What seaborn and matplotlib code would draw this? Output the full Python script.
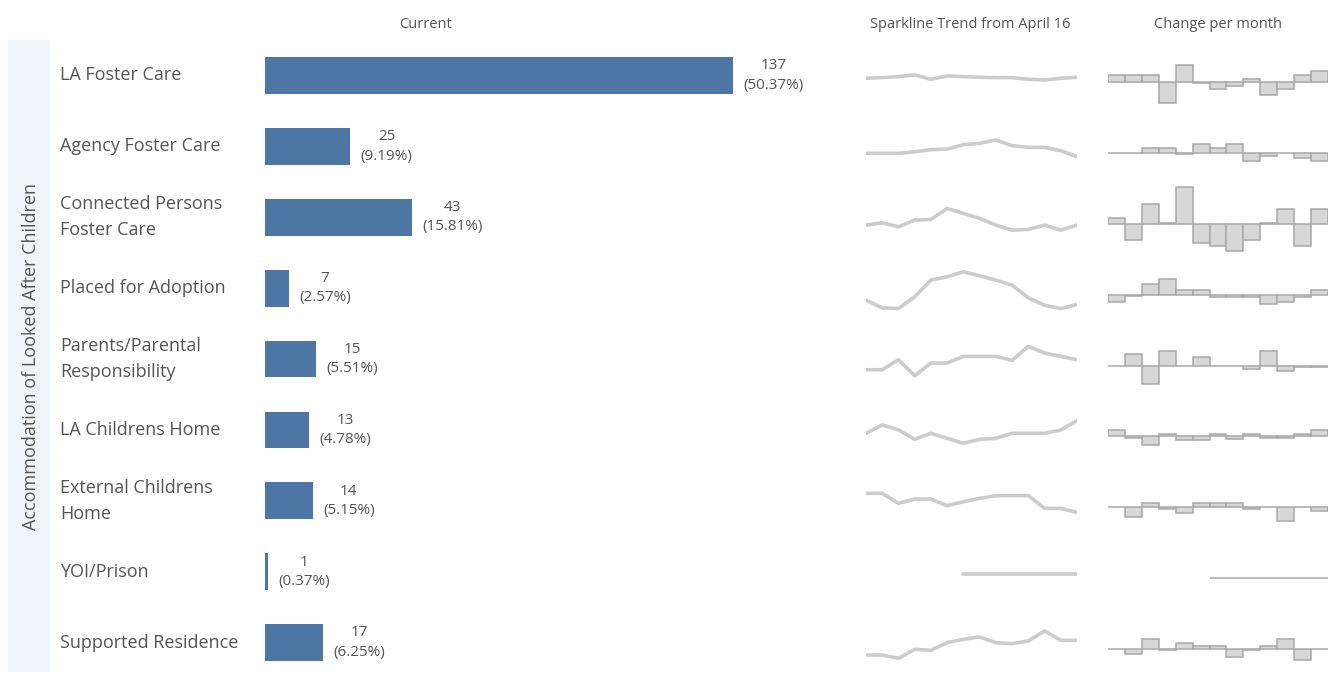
import numpy as np
import pandas as pd
import matplotlib
matplotlib.use("Agg")
import matplotlib.pyplot as plt
import matplotlib.transforms as mtransforms
import seaborn as sns

# placement types and current counts
categories = ["LA Foster Care", "Agency Foster Care", "Connected Persons\nFoster Care",
              "Placed for Adoption", "Parents/Parental\nResponsibility", "LA Childrens Home",
              "External Childrens\nHome", "YOI/Prison", "Supported Residence"]
current = [137, 25, 43, 7, 15, 13, 14, 1, 17]

# sparkline levels, April 16 onwards (relative)
nan = np.nan
trend_la_foster = [5, 7, 10, 15, 2, 12, 10, 8, 7, 7, 2, 0, 5, 8]
trend_agency = [10, 10, 10, 15, 21, 23, 36, 40, 50, 33, 28, 28, 18, 0]
trend_connected = [15, 22, 10, 30, 32, 65, 50, 35, 15, 0, 2, 15, 0, 15]
trend_adoption = [25, 2, 0, 35, 85, 95, 110, 98, 85, 70, 32, 10, 0, 12]
trend_parents = [18, 18, 48, 0, 38, 38, 58, 58, 58, 46, 88, 68, 58, 48]
trend_la_home = [30, 55, 40, 12, 30, 15, 0, 12, 15, 30, 30, 30, 40, 68]
trend_ext_home = [57, 57, 27, 40, 40, 20, 32, 42, 50, 50, 50, 12, 12, 0]
trend_yoi = [nan, nan, nan, nan, nan, nan, 1, 1, 1, 1, 1, 1, 1, 1]
trend_supported = [10, 10, 0, 27, 24, 47, 57, 64, 47, 44, 52, 82, 54, 54]

# change per month (relative)
chg_la_foster = [20, 20, 20, -64, 51, -3, -22, -12, 10, -40, -22, 20, 33]
chg_agency = [0, 0, 16, 16, -3, 26, 14, 26, -26, -8, 0, -16, -26]
chg_connected = [17, -50, 58, 3, 110, -58, -67, -82, -50, 3, 45, -67, 45]
chg_adoption = [-23, -3, 33, 48, 15, 15, -6, -6, -6, -27, -23, -6, 13]
chg_parents = [0, 35, -54, 43, 0, 25, 0, 0, -9, 43, -17, -4, -4]
chg_la_home = [18, -6, -25, 8, -10, -10, 8, -7, 8, -5, -5, 8, 18]
chg_ext_home = [0, -30, 13, -5, -17, 13, 13, 13, -5, 0, -40, 0, -12]
chg_yoi = [nan, nan, nan, nan, nan, nan, 0, 0, 0, 0, 0, 0, 0]
chg_supported = [0, -14, 30, -4, 18, 8, 8, -24, -3, 8, 30, -32, 0]

trends = [trend_la_foster, trend_agency, trend_connected, trend_adoption, trend_parents,
          trend_la_home, trend_ext_home, trend_yoi, trend_supported]
changes = [chg_la_foster, chg_agency, chg_connected, chg_adoption, chg_parents,
           chg_la_home, chg_ext_home, chg_yoi, chg_supported]

BAR_COLOR = "#4e76a5"
LINE_GRAY = "#cccccc"
TEXT_GRAY = "#555555"
FONT = ["Open Sans", "DejaVu Sans"]

sns.set_theme(style="white")
plt.rcParams["font.family"] = FONT

W, H = 1338, 675
fig = plt.figure(figsize=(W / 100, H / 100), dpi=100)

def px_axes(x0, y0, w, h):
    # axes from pixel box, y measured from top
    return fig.add_axes([x0 / W, 1 - (y0 + h) / H, w / W, h / H])

top = 40.0
row_h = 70.9
n = len(categories)

# light band with the dimension title
band = px_axes(8, top, 42, 632)
band.set_facecolor("#eef4fb")
band.set_xticks([])
band.set_yticks([])
for s in band.spines.values():
    s.set_visible(False)
band.text(0.55, 0.5, "Accommodation of Looked After Children", rotation=90,
          ha="center", va="center", fontsize=13, color=TEXT_GRAY, transform=band.transAxes)

# bar chart
df = pd.DataFrame({"category": categories, "current": current})
df["pct"] = df["current"] / df["current"].sum() * 100
ax = px_axes(265, top, 170 * 3.416, row_h * n)
sns.barplot(data=df, y="category", x="current", orient="h", color=BAR_COLOR,
            width=0.52, saturation=1, linewidth=0, ax=ax)
ax.set_xlim(0, 170)
ax.set_ylim(n - 0.5, -0.5)
ax.set_xlabel("")
ax.set_ylabel("")
ax.set_xticks([])
ax.set_yticks([])
for s in ax.spines.values():
    s.set_visible(False)
ax.patch.set_alpha(0)

lab_tr = mtransforms.blended_transform_factory(fig.transFigure, ax.transData)
for i, row in df.iterrows():
    ax.text(row["current"] + 3, i, f"{row['current']}\n({row['pct']:.2f}%)",
            ha="left", va="center", multialignment="center", fontsize=11,
            color=TEXT_GRAY, linespacing=1.4)
    ax.text(60 / W, i, row["category"], transform=lab_tr, ha="left", va="center",
            fontsize=13, color=TEXT_GRAY, linespacing=1.55)

# sparklines and change-per-month steps, one small axes per row
for i in range(n):
    y0 = top + i * row_h
    sp = px_axes(866, y0, 211, row_h)
    vals = np.array(trends[i], dtype=float)
    sns.lineplot(x=np.arange(len(vals)), y=vals, color=LINE_GRAY, lw=2.6, ax=sp)
    mid = (np.nanmin(vals) + np.nanmax(vals)) / 2
    sp.set_ylim(mid - 100, mid + 112)
    sp.set_xlim(0, 13)

    ch = px_axes(1108, y0, 220, row_h)
    cv = np.array(changes[i], dtype=float)
    ok = ~np.isnan(cv)
    ch.bar(np.arange(len(cv))[ok], cv[ok], width=1, align="edge", color="#d7d7d7",
           edgecolor="#a8a8a8", linewidth=1.1)
    ch.set_ylim(-87, 126)
    ch.set_xlim(0, 13)

    for a in (sp, ch):
        a.set_xticks([])
        a.set_yticks([])
        a.set_xlabel("")
        a.set_ylabel("")
        a.patch.set_alpha(0)
        for s in a.spines.values():
            s.set_visible(False)

# column headers
hy = 1 - 25 / H
fig.text(425 / W, hy, "Current", ha="center", va="center", fontsize=10.5, color=TEXT_GRAY)
fig.text(970 / W, hy, "Sparkline Trend from April 16", ha="center", va="center",
         fontsize=10.5, color=TEXT_GRAY)
fig.text(1218 / W, hy, "Change per month", ha="center", va="center",
         fontsize=10.5, color=TEXT_GRAY)

fig.savefig("out.png", dpi=100, facecolor="white")
